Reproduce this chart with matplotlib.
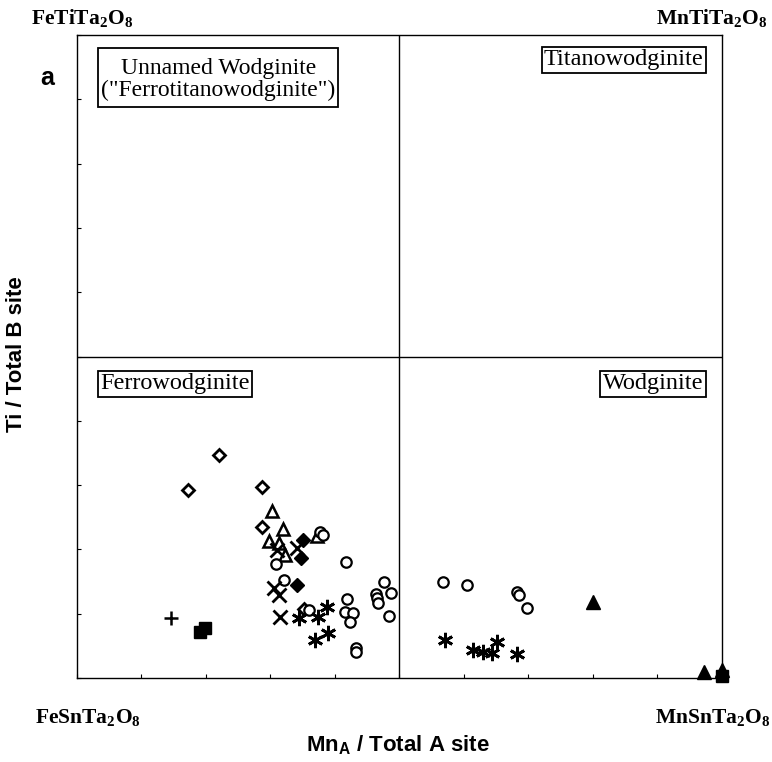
"""Wodginite-group classification diagram (Mn_A vs Ti/B)."""

import matplotlib

matplotlib.use("Agg")
import matplotlib.pyplot as plt
from matplotlib.patches import Rectangle

plt.rcParams["mathtext.fontset"] = "custom"
plt.rcParams["mathtext.rm"] = "Liberation Serif:bold"
plt.rcParams["mathtext.sf"] = "Liberation Sans:bold"

# data (x = Mn_A / total A, y = Ti / total B)
diamond_open_x = [0.172, 0.220, 0.287, 0.287, 0.352]
diamond_open_y = [0.292, 0.347, 0.297, 0.235, 0.107]

triangle_open_x = [0.302, 0.319, 0.298, 0.313, 0.323, 0.372]
triangle_open_y = [0.260, 0.232, 0.213, 0.210, 0.192, 0.221]

circle_x = [0.377, 0.381, 0.308, 0.321, 0.417, 0.360, 0.419, 0.416, 0.428,
            0.423, 0.433, 0.433, 0.476, 0.464, 0.465, 0.467, 0.487, 0.484,
            0.567, 0.605, 0.682, 0.685, 0.698]
circle_y = [0.227, 0.222, 0.177, 0.152, 0.180, 0.106, 0.123, 0.103, 0.101,
            0.087, 0.047, 0.040, 0.149, 0.131, 0.124, 0.117, 0.132, 0.096,
            0.149, 0.145, 0.134, 0.129, 0.109]

cross_x = [0.310, 0.341, 0.305, 0.313, 0.315]
cross_y = [0.199, 0.202, 0.140, 0.129, 0.095]

diamond_filled_x = [0.350, 0.347, 0.341]
diamond_filled_y = [0.215, 0.187, 0.145]

asterisk_x = [0.344, 0.374, 0.388, 0.369, 0.389,
              0.571, 0.614, 0.629, 0.643, 0.651, 0.682]
asterisk_y = [0.093, 0.095, 0.110, 0.059, 0.070,
              0.059, 0.044, 0.040, 0.039, 0.056, 0.037]

plus_x = [0.146]
plus_y = [0.093]

square_x = [0.191, 0.198, 1.000]
square_y = [0.072, 0.078, 0.003]

triangle_filled_x = [0.800, 0.972, 1.000]
triangle_filled_y = [0.118, 0.009, 0.012]

quadrant_labels = [
    (0.848, 0.978, "Titanowodginite"),
    (0.152, 0.474, "Ferrowodginite"),
    (0.893, 0.474, "Wodginite"),
]

fig = plt.figure(figsize=(7.72, 7.62), dpi=100)
ax = fig.add_axes([0.0997, 0.1102, 0.8355, 0.8438])

mk = dict(linestyle="none", color="black", clip_on=False)
ax.plot(diamond_open_x, diamond_open_y, marker="D", ms=6, mfc="white", mew=2, **mk)
ax.plot(triangle_open_x, triangle_open_y, marker="^", ms=8.5, mfc="white", mew=1.8, **mk)
ax.plot(circle_x, circle_y, marker="o", ms=7.5, mfc="white", mew=1.6, **mk)
ax.plot(cross_x, cross_y, marker="x", ms=10, mew=2, **mk)
ax.plot(diamond_filled_x, diamond_filled_y, marker="D", ms=7, **mk)
ax.plot(asterisk_x, asterisk_y, marker=(6, 2, 0), ms=11, mew=2, **mk)
ax.plot(plus_x, plus_y, marker="+", ms=10, mew=1.8, **mk)
ax.plot(square_x, square_y, marker="s", ms=8.5, **mk)
ax.plot(triangle_filled_x, triangle_filled_y, marker="^", ms=10, **mk)

ax.axvline(0.5, color="black", lw=1)
ax.axhline(0.5, color="black", lw=1)

ax.set_xlim(0, 1)
ax.set_ylim(0, 1)
ax.set_xticks([i / 10 for i in range(11)])
ax.set_yticks([i / 10 for i in range(11)])
ax.tick_params(direction="in", length=3, width=0.8, labelbottom=False, labelleft=False)
for sp in ax.spines.values():
    sp.set_linewidth(1)

# two-line label has a taller box than the others
ax.add_patch(Rectangle((0.033, 0.888), 0.372, 0.092, transform=ax.transAxes,
                       fc="white", ec="black", lw=1.3, zorder=3))
ax.text(0.219, 0.931, 'Unnamed Wodginite\n("Ferrotitanowodginite")', ha="center",
        va="center", fontsize=17, family="Liberation Serif", linespacing=1.0,
        transform=ax.transAxes, zorder=4)

for x, y, text in quadrant_labels:
    ax.text(x, y, text, ha="center", va="top", fontsize=17.5, family="Liberation Serif",
            linespacing=1.0, transform=ax.transAxes,
            bbox=dict(boxstyle="square,pad=0.1", fc="white", ec="black", lw=1.3))

corner = dict(fontsize=15.5, family="Liberation Serif", weight="bold", ha="center", va="center")
fig.text(0.107, 0.976, r"FeTiTa$_\mathrm{2}$O$_\mathrm{8}$", **corner)
fig.text(0.922, 0.976, r"MnTiTa$_\mathrm{2}$O$_\mathrm{8}$", **corner)
fig.text(0.114, 0.057, r"FeSnTa$_\mathrm{2}$O$_\mathrm{8}$", **corner)
fig.text(0.923, 0.057, r"MnSnTa$_\mathrm{2}$O$_\mathrm{8}$", **corner)

fig.text(0.061, 0.897, "a", fontsize=18, family="Liberation Sans", weight="bold",
         ha="center", va="center")
fig.text(0.516, 0.022, r"Mn$_\mathsf{A}$ / Total A site", fontsize=16,
         family="Liberation Sans", weight="bold", ha="center", va="center")
fig.text(0.022, 0.535, "Ti / Total B site", fontsize=16, family="Liberation Sans",
         weight="bold", ha="center", va="center", rotation=90)

fig.savefig("out.png", dpi=100)
